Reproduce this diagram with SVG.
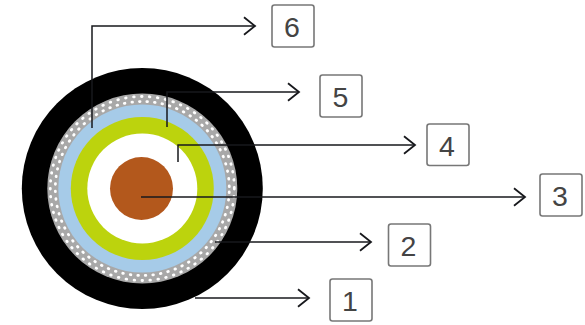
<svg xmlns="http://www.w3.org/2000/svg" width="585" height="325" viewBox="0 0 585 325">
<style>
.lbl{fill:#fff;stroke:#777;stroke-width:1.6}
.num{font-family:"Liberation Sans",Arial,sans-serif;font-size:28.5px;fill:#444;text-anchor:middle}
.con{fill:none;stroke:#17181c;stroke-width:1.5}
.arr{marker-end:url(#chev)}
.dots{fill:none;stroke:#fff;stroke-width:2.8;stroke-linecap:round}
</style>
<defs>
<marker id="chev" markerUnits="userSpaceOnUse" markerWidth="14" markerHeight="22" refX="12.5" refY="11" orient="auto" viewBox="0 0 14 22">
<path d="M1.5 2.2L12.5 11L1.5 19.8" fill="none" stroke="#17181c" stroke-width="1.8"/>
</marker>
<filter id="soft" x="-5%" y="-5%" width="110%" height="110%"><feGaussianBlur stdDeviation="0.6"/></filter>
</defs>
<rect width="585" height="325" fill="#fff"/>
<g id="cable" filter="url(#soft)">
<circle cx="142.300" cy="188.500" r="120.500" fill="#000"/>
<circle cx="142.300" cy="188.500" r="95" fill="#a8a8a8"/>
<circle class="dots" cx="142.300" cy="188.500" r="92" stroke-dasharray="0.6 7.4"/>
<circle class="dots" cx="142.300" cy="188.500" r="87" stroke-dasharray="0.6 7" stroke-dashoffset="4"/>
<circle cx="142.300" cy="188.500" r="84" fill="#a6cbe8"/>
<circle cx="142.300" cy="188.500" r="71.500" fill="#bcd30e"/>
<circle cx="142.300" cy="188.500" r="55" fill="#fff"/>
<circle cx="141.500" cy="188.500" r="31.500" fill="#b3581f"/>
</g>
<g id="connectors">
<path class="con arr" d="M92 128V26H255"/>
<path class="con arr" d="M167 127V92H299"/>
<path class="con arr" d="M178 162V145H415"/>
<path class="con arr" d="M141 197H525"/>
<path class="con arr" d="M215 242H371"/>
<path class="con arr" d="M195 298H309"/>
</g>
<g id="n6"><rect class="lbl" x="272" y="5" width="42" height="42" rx="2.5"/><text class="num" x="292" y="37">6</text></g>
<g id="n5"><rect class="lbl" x="320" y="75" width="42" height="42" rx="2.5"/><text class="num" x="340.500" y="107">5</text></g>
<g id="n4"><rect class="lbl" x="427" y="124" width="42" height="41.500" rx="2.500"/><text class="num" x="447" y="156">4</text></g>
<g id="n3"><rect class="lbl" x="540" y="174" width="42" height="42" rx="2.500"/><text class="num" x="560" y="206">3</text></g>
<g id="n2"><rect class="lbl" x="388.500" y="224" width="42" height="42" rx="2.500"/><text class="num" x="408.500" y="256">2</text></g>
<g id="n1"><rect class="lbl" x="330" y="279" width="42" height="42" rx="2.500"/><text class="num" x="350" y="311">1</text></g>
</svg>
